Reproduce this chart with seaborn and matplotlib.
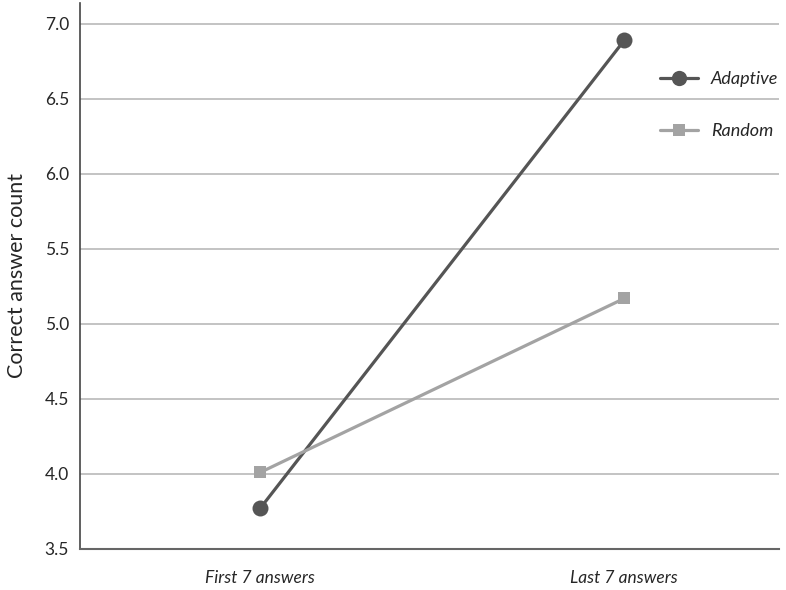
import pandas as pd
import seaborn as sns
import matplotlib.pyplot as plt

# values
phases = ["First 7 answers", "Last 7 answers"]
adaptive = [3.77, 6.89]
random_ = [4.01, 5.17]
groups = ["Adaptive", "Random"]

df = pd.DataFrame({
    "phase": phases * 2,
    "count": adaptive + random_,
    "group": [groups[0]] * 2 + [groups[1]] * 2,
})

sns.set_style("white")
plt.rcParams["font.family"] = ["Lato", "DejaVu Sans"]

fig = plt.figure(figsize=(7.86, 5.9), dpi=100)
ax = fig.add_axes([0.102, 0.0695, 0.889, 0.9255])

# horizontal grid
for y in [4.0, 4.5, 5.0, 5.5, 6.0, 6.5, 7.0]:
    ax.axhline(y, color="#b3b3b3", lw=1.1, zorder=0)

sns.lineplot(
    data=df, x="phase", y="count", hue="group", style="group",
    palette={"Adaptive": "#555555", "Random": "#a3a3a3"},
    markers={"Adaptive": "o", "Random": "s"}, dashes=False,
    linewidth=2.3, markeredgewidth=0, ax=ax, sort=False,
)
for line in ax.lines:
    if line.get_marker() == "o":
        line.set_markersize(11.5)
    elif line.get_marker() == "s":
        line.set_markersize(8.5)

ax.set_xlim(-0.494, 1.425)
ax.set_ylim(3.5, 7.14)
ax.set_yticks([3.5, 4.0, 4.5, 5.0, 5.5, 6.0, 6.5, 7.0])
ax.set_yticklabels(["3.5", "4.0", "4.5", "5.0", "5.5", "6.0", "6.5", "7.0"], fontsize=12.5)
ax.set_xticks([0, 1])
ax.set_xticklabels(phases, fontsize=12.5, style="italic")
ax.tick_params(axis="both", length=0)
ax.tick_params(axis="x", pad=15)
ax.tick_params(axis="y", pad=8)
ax.set_xlabel("")
ax.set_ylabel("Correct answer count", fontsize=15.5, labelpad=13)

for side in ["top", "right"]:
    ax.spines[side].set_visible(False)
ax.spines["left"].set_color("#444444")
ax.spines["left"].set_linewidth(1.2)
ax.spines["bottom"].set_color("#666666")
ax.spines["bottom"].set_linewidth(1.5)

handles, labels = ax.get_legend_handles_labels()
for h in handles:
    if h.get_marker() == "o":
        h.set_markersize(11)
    elif h.get_marker() == "s":
        h.set_markersize(8.5)
leg = ax.legend(handles, labels, loc="upper left", bbox_to_anchor=(0.807, 0.905),
                frameon=False, handlelength=2.1, labelspacing=2.0, handletextpad=0.7,
                prop={"style": "italic", "size": 13})

fig.savefig("out.png", dpi=100)
